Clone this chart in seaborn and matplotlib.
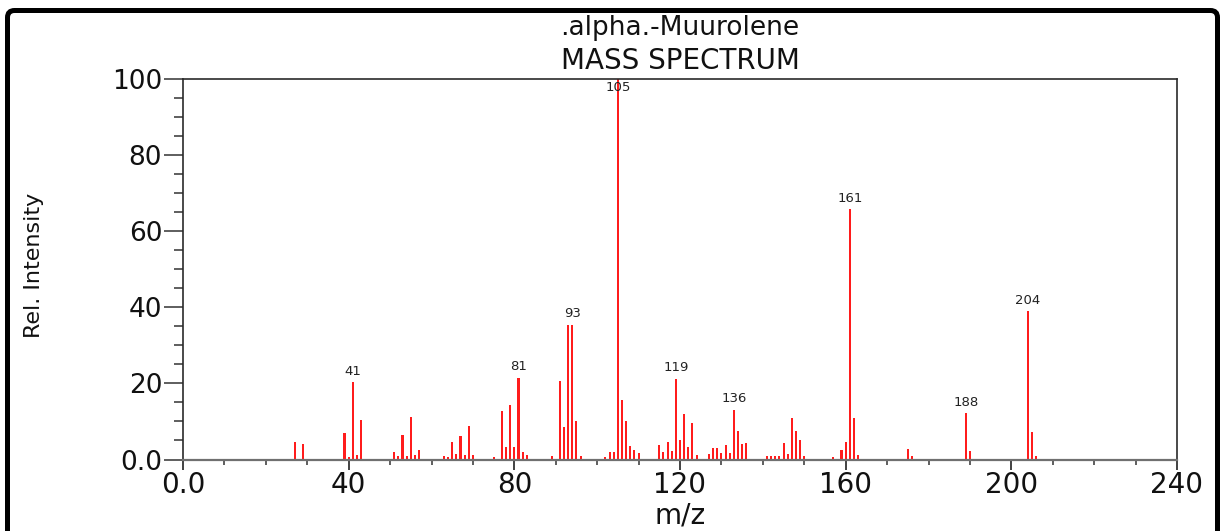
import matplotlib
matplotlib.use("Agg")
import matplotlib.pyplot as plt
import pandas as pd
import seaborn as sns
from matplotlib.patches import FancyBboxPatch
from matplotlib.ticker import MultipleLocator

# EI mass spectrum of alpha-muurolene: m/z and relative intensity (%)
mz = [27, 29, 39, 40, 41, 42, 43, 51, 52, 53, 54, 55, 56, 57,
      63, 64, 65, 66, 67, 68, 69, 70, 75, 77, 78, 79, 80, 81, 82, 83,
      89, 91, 92, 93, 94, 95, 96, 102, 103, 104, 105, 106, 107, 108, 109, 110,
      115, 116, 117, 118, 119, 120, 121, 122, 123, 124,
      127, 128, 129, 130, 131, 132, 133, 134, 135, 136,
      141, 142, 143, 144, 145, 146, 147, 148, 149, 150,
      157, 159, 160, 161, 162, 163, 175, 176, 189, 190, 204, 205, 206]
intensity = [4.7, 4.2, 6.9, 0.6, 20.3, 1.2, 10.3, 2.0, 0.9, 6.4, 0.9, 11.3, 1.2, 2.5,
             0.9, 0.6, 4.7, 1.4, 6.2, 1.2, 8.7, 1.2, 0.7, 12.7, 3.2, 14.4, 3.4, 21.5, 2.0, 1.2,
             0.9, 20.5, 8.5, 35.4, 35.4, 10.0, 0.9, 0.7, 2.1, 1.9, 100.0, 15.6, 10.0, 3.6, 2.4, 1.6,
             3.9, 2.0, 4.6, 2.3, 21.2, 5.1, 12.0, 3.2, 9.6, 1.2,
             1.4, 2.9, 2.9, 1.7, 3.9, 1.7, 13.0, 7.6, 4.2, 4.4,
             0.8, 0.8, 0.8, 0.8, 4.3, 1.4, 11.0, 7.6, 5.1, 0.9,
             0.6, 2.4, 4.6, 65.8, 11.0, 1.1, 2.7, 0.9, 12.1, 2.2, 39.0, 7.1, 1.0]

# annotated peaks: printed text and the stem it sits over
label_text = ["41", "81", "93", "105", "119", "136", "161", "188", "204"]
label_mz = [41, 81, 94, 105, 119, 133, 161, 189, 204]

x_ticks = [0, 40, 80, 120, 160, 200, 240]
x_tick_labels = ["0.0", "40", "80", "120", "160", "200", "240"]
y_ticks = [0, 20, 40, 60, 80, 100]
y_tick_labels = ["0.0", "20", "40", "60", "80", "100"]

sns.set_theme(style="ticks")
plt.rcParams["font.family"] = ["DejaVu Sans"]

W, H = 1226, 531
fig = plt.figure(figsize=(W / 100, H / 100), dpi=100, facecolor="white")
ax = fig.add_axes([183 / W, 71.5 / H, 994 / W, 380.5 / H])

df = pd.DataFrame({"mz": mz, "intensity": intensity})
sns.barplot(data=df, x="mz", y="intensity", native_scale=True, width=0.5,
            color="#ff1c1c", saturation=1, errorbar=None, linewidth=0, ax=ax)

ax.set_xlim(0, 240)
ax.set_ylim(0, 100)
ax.set_xlabel("")
ax.set_ylabel("")

ax.set_xticks(x_ticks, x_tick_labels)
ax.set_yticks(y_ticks, y_tick_labels)
ax.xaxis.set_minor_locator(MultipleLocator(10))
ax.yaxis.set_minor_locator(MultipleLocator(5))
ax.tick_params(which="both", bottom=True, left=True, top=False, right=False,
               direction="out", color="#333333")
ax.tick_params(axis="x", which="major", length=7.5, width=1.3, pad=1,
               labelsize=20, labelcolor="#111111")
ax.tick_params(axis="x", which="minor", length=3.8, width=1.1)
ax.tick_params(axis="y", which="major", length=14, width=1.1, pad=1,
               labelsize=19, labelcolor="#111111")
ax.tick_params(axis="y", which="minor", length=6.5, width=1.1)

for side in ["left", "top", "right"]:
    ax.spines[side].set_visible(True)
    ax.spines[side].set_color("#2a2a2a")
    ax.spines[side].set_linewidth(1.2)
ax.spines["bottom"].set_color("#707070")
ax.spines["bottom"].set_linewidth(1.6)

# peak annotations
for text, m in zip(label_text, label_mz):
    h = intensity[mz.index(m)]
    ax.text(m, min(h + 1.2, 96.0), text, ha="center", va="bottom",
            fontsize=9.5, color="#222222")

fig.text(680 / W, 1 - 28 / H, ".alpha.-Muurolene", ha="center", va="center",
         fontsize=19, color="#111111")
fig.text(680 / W, 1 - 61 / H, "MASS SPECTRUM", ha="center", va="center",
         fontsize=20, color="#111111")
fig.text(34 / W, 1 - 265 / H, "Rel. Intensity", rotation=90, ha="center",
         va="center", fontsize=16, color="#111111")
fig.text(680 / W, 1 - 516 / H, "m/z", ha="center", va="center",
         fontsize=20, color="#111111")

# heavy panel frame, open at the bottom edge of the image
frame = FancyBboxPatch((0.075, -0.3), 12.10, 5.205 + 0.3,
                       boxstyle="round,pad=0,rounding_size=0.07",
                       transform=fig.dpi_scale_trans, facecolor="none",
                       edgecolor="black", linewidth=3.6, clip_on=False)
fig.patches.append(frame)

fig.savefig("out.png", dpi=100, facecolor="white")
